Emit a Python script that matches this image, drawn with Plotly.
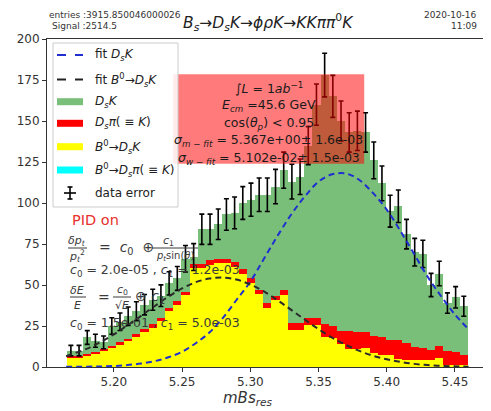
import numpy as np
import plotly.graph_objects as go

# ---------------- data ----------------
bin_lo = 5.1655
bin_w = 0.006
n_bins = 49

total = [10, 10, 18, 16, 15, 25, 27.6, 31, 34, 38, 41, 43.5, 51, 54, 66, 67, 84, 84, 87, 93,
         94, 100, 102, 105, 105, 110, 120, 113, 116, 135, 160, 178, 165, 150, 143, 144, 143, 126, 112, 95,
         98, 81, 70, 69, 50, 57, 39, 42.5, 37]
yellow_plus_red = [7, 7, 8, 9, 11, 13, 15, 17, 20, 23, 26, 30, 36, 40, 46, 63, 63, 65, 66, 66,
                   64, 60, 54, 47, 39, 43, 47, 27, 27, 30, 30, 26, 25, 22, 22, 21.5, 21.5, 19, 18.5, 16.5,
                   16.5, 14.6, 12.4, 11.6, 10.4, 12.8, 10, 9.3, 7.3]
b0_dsk = [6, 6, 7, 8, 10, 12, 14, 16, 18.5, 21.5, 24, 28, 34, 38, 44, 60.5, 60.5, 62.5, 63.5, 63.5,
          61, 57, 51, 44.5, 36, 41, 44, 22.5, 22.5, 25.5, 25.5, 18, 17.5, 14, 11, 11, 11.4, 8.5, 7.3, 7.3,
          5, 4.3, 4.3, 4, 4, 5.5, 1.5, 1.2, 1]
b0_dspi = [0] * n_bins
data_err = [3.2, 3.2, 4.2, 4.0, 3.9, 5.0, 5.3, 5.6, 5.8, 6.2, 6.4, 6.6, 7.1, 7.3, 8.1, 8.2, 9.2, 9.2, 9.3, 9.6,
            9.7, 10.0, 10.1, 10.2, 10.2, 10.5, 11.0, 10.6, 10.8, 11.6, 12.6, 13.3, 12.8, 12.2, 12.0, 12.0, 12.0, 11.2, 10.6, 9.7,
            9.9, 9.0, 8.4, 8.3, 7.1, 7.5, 6.2, 6.5, 6.1]

fit_x = [5.165, 5.18, 5.19, 5.20, 5.21, 5.22, 5.23, 5.24, 5.25, 5.26, 5.27, 5.28, 5.29, 5.30, 5.31,
         5.32, 5.33, 5.34, 5.35, 5.36, 5.37, 5.38, 5.39, 5.40, 5.41, 5.42, 5.43, 5.44, 5.45, 5.46]
fit_dsk = [0.1, 0.2, 0.3, 0.6, 1.2, 2.1, 3.6, 5.9, 9.3, 14.5, 21, 30, 41, 52, 66,
           80, 93, 104, 113, 117.5, 118, 114, 106, 96, 83, 69, 55, 43, 32, 23]
fit_b0 = [6.6, 11.1, 15.1, 19.9, 25.4, 31.2, 37.2, 42.9, 47.9, 51.7, 53.9, 54.5, 53.3, 50.3, 46.1,
          40.7, 34.8, 28.9, 23.1, 17.9, 13.5, 9.8, 6.8, 4.7, 3.1, 1.9, 1.2, 0.7, 0.4, 0.2]

x_ticks = [5.20, 5.25, 5.30, 5.35, 5.40, 5.45]
x_tick_labels = ["5.20", "5.25", "5.30", "5.35", "5.40", "5.45"]
y_ticks = [0, 25, 50, 75, 100, 125, 150, 175, 200]

# derived stack pieces
centers = bin_lo + bin_w * (np.arange(n_bins) + 0.5)
red_part = [yr - y for yr, y in zip(yellow_plus_red, b0_dsk)]
green_part = [t - yr for t, yr in zip(total, yellow_plus_red)]

GREEN = "rgb(121,190,121)"
RED = "rgb(255,0,0)"
YELLOW = "rgb(255,255,0)"
CYAN = "rgb(0,255,255)"

# page body has an 8px margin: shrink the figure so the plot lands where the reference has it
OFF = 8
W, H = 491 - OFF, 411 - OFF
PL, PR, PT, PB = 47, 487, 39, 367   # plot-area edges in reference window pixels


def px(x):
    return (x - PL) / (PR - PL)


def py(y):
    return (PB - y) / (PB - PT)


fig = go.Figure()
for vals, col in [(b0_dsk, YELLOW), (b0_dspi, CYAN), (red_part, RED), (green_part, GREEN)]:
    fig.add_trace(go.Bar(x=centers, y=vals, width=bin_w, marker=dict(color=col, line=dict(width=0)),
                         showlegend=False, hoverinfo="skip"))

fig.add_trace(go.Scatter(x=centers, y=total, mode="markers", marker=dict(size=1, color="black"),
                         error_y=dict(type="data", array=data_err, visible=True, color="black",
                                      thickness=1.6, width=2.5),
                         showlegend=False))
fig.add_trace(go.Scatter(x=fit_x, y=fit_dsk, mode="lines",
                         line=dict(color="#1f2fd0", width=2, dash="6px,4px", shape="spline"),
                         showlegend=False))
fig.add_trace(go.Scatter(x=fit_x, y=fit_b0, mode="lines",
                         line=dict(color="#2a2a2a", width=2, dash="6px,4px", shape="spline"),
                         showlegend=False))

shapes = []
annots = []
# red info box
shapes.append(dict(type="rect", xref="x", yref="y", x0=5.2435, x1=5.3835, y0=124, y1=178.5,
                   fillcolor="rgba(255,0,0,0.52)", line=dict(width=0), layer="above"))
box_lines = [
    ("∫<i>L</i> = 1<i>ab</i><sup>−1</sup>", 88),
    ("<i>E<sub>cm</sub></i> =45.6 GeV", 106),
    ("cos(<i>θ<sub>p</sub></i>) < 0.95", 123),
    ("<i>σ<sub>m − fit</sub></i> = 5.367e+00± 1.6e-03", 140.5),
    ("<i>σ<sub>w − fit</sub></i> = 5.102e-02± 1.5e-03", 158),
]
for txt, yy in box_lines:
    annots.append(dict(text=txt, x=px(268.5), y=py(yy), xref="paper", yref="paper", showarrow=False,
                       xanchor="center", yanchor="middle", font=dict(size=12.5, color="#1a1a1a")))

# manual legend
shapes.append(dict(type="rect", xref="paper", yref="paper", x0=px(53), x1=px(178), y0=py(207), y1=py(43),
                   fillcolor="rgba(255,255,255,0.85)", line=dict(color="#cccccc", width=1), layer="above"))
leg_rows = [55, 79.5, 101.7, 123.3, 146.7, 170, 193]
leg_text = ["fit <i>D<sub>s</sub>K</i>", "fit <i>B</i><sup>0</sup>→<i>D<sub>s</sub>K</i>", "<i>D<sub>s</sub>K</i>",
            "<i>D<sub>s</sub>π</i>( ≡ <i>K</i>)", "<i>B</i><sup>0</sup>→<i>D<sub>s</sub>K</i>",
            "<i>B</i><sup>0</sup>→<i>D<sub>s</sub>π</i>( ≡ <i>K</i>)", "data error"]
for i, (yy, t) in enumerate(zip(leg_rows, leg_text)):
    if i == 0:
        shapes.append(dict(type="line", xref="paper", yref="paper", x0=px(57), x1=px(83), y0=py(yy), y1=py(yy),
                           line=dict(color="#1f2fd0", width=1.8, dash="dash"), layer="above"))
    elif i == 1:
        shapes.append(dict(type="line", xref="paper", yref="paper", x0=px(57), x1=px(83), y0=py(yy), y1=py(yy),
                           line=dict(color="#222222", width=1.8, dash="dash"), layer="above"))
    elif i < 6:
        col = [GREEN, RED, YELLOW, CYAN][i - 2]
        shapes.append(dict(type="rect", xref="paper", yref="paper", x0=px(57), x1=px(83), y0=py(yy + 3.5),
                           y1=py(yy - 3.5), fillcolor=col, line=dict(width=0), layer="above"))
    else:
        shapes.append(dict(type="line", xref="paper", yref="paper", x0=px(70), x1=px(70), y0=py(yy + 6), y1=py(yy - 6),
                           line=dict(color="black", width=1.6), layer="above"))
        shapes.append(dict(type="line", xref="paper", yref="paper", x0=px(64), x1=px(76), y0=py(yy), y1=py(yy),
                           line=dict(color="black", width=1.6), layer="above"))
        for ee in (yy - 6, yy + 6):
            shapes.append(dict(type="line", xref="paper", yref="paper", x0=px(67.5), x1=px(72.5), y0=py(ee), y1=py(ee),
                               line=dict(color="black", width=1.6), layer="above"))
    annots.append(dict(text=t, x=px(93), y=py(yy), xref="paper", yref="paper", showarrow=False,
                       xanchor="left", yanchor="middle", font=dict(size=12, color="#222222")))

# PID text block
TC = "#3a3a3a"


def note(t, x, y, size=11, anchor="center", color=TC):
    annots.append(dict(text=t, x=px(x), y=py(y), xref="paper", yref="paper", showarrow=False,
                       xanchor=anchor, yanchor="middle", font=dict(size=size, color=color)))


def fbar(x0, x1, y):
    shapes.append(dict(type="line", xref="paper", yref="paper", x0=px(x0), x1=px(x1), y0=py(y), y1=py(y),
                       line=dict(color=TC, width=1), layer="above"))


note("PID on", 70, 220, size=14.5, anchor="left", color="#e8302c")
note("<i>δp<sub>t</sub></i>", 77, 241, size=11)
fbar(68, 87, 248)
note("<i>p<sub>t</sub></i><sup>2</sup>", 77, 256, size=11)
note("=  <i>c</i><sub>0</sub>  ⊕", 97, 248, size=14, anchor="left")
note("<i>c</i><sub>1</sub>", 168, 241, size=11)
fbar(152, 198, 248)
note("<i>p<sub>t</sub></i>sin(<i>θ</i>)", 175, 256, size=10)
note("<i>c</i><sub>0</sub> = 2.0e-05 , <i>c</i><sub>1</sub> = 1.2e-03", 68, 270, size=12.5, anchor="left")
note("<i>δE</i>", 77, 290, size=11)
fbar(70, 86, 297)
note("<i>E</i>", 77, 305, size=11)
note("=", 104, 297, size=14)
note("<i>c</i><sub>0</sub>", 122, 290, size=11)
fbar(113, 131, 297)
note("√<i>E</i>", 122, 305, size=11)
note("⊕ <i>c</i><sub>1</sub>", 133, 297, size=14, anchor="left")
note("<i>c</i><sub>0</sub> = 1.5e-01 , <i>c</i><sub>1</sub> = 5.0e-03", 68, 323, size=12.5, anchor="left")

# header texts
note("entries :3915.850046000026", 47, 15, size=9, anchor="left", color="#333333")
note("Signal :2514.5", 50, 26, size=9, anchor="left", color="#333333")
note("2020-10-16", 479, 15, size=9, anchor="right", color="#333333")
note("11:09", 479, 26, size=9, anchor="right", color="#333333")
note("<i>B<sub>s</sub></i>→<i>D<sub>s</sub>K</i>→<i>ϕρK</i>→<i>KKππ</i><sup>0</sup><i>K</i>", 268, 22, size=15.5,
     color="#222222")
note("<i>mBs<sub>res</sub></i>", 247, 398, size=15, color="#333333")

fig.update_layout(
    template="none",
    width=W, height=H,
    margin=dict(l=PL - OFF, r=491 - PR, t=PT - OFF, b=411 - PB, pad=0, autoexpand=False),
    paper_bgcolor="white", plot_bgcolor="white",
    barmode="stack", bargap=0,
    font=dict(family="DejaVu Sans", color="#333333"),
    shapes=shapes, annotations=annots,
    xaxis=dict(range=[5.151, 5.4735], tickvals=x_ticks, ticktext=x_tick_labels, ticks="outside", ticklen=4,
               tickcolor="#333333", showline=True, linecolor="#333333", linewidth=1, mirror=True,
               showgrid=False, zeroline=False, tickfont=dict(size=12), automargin=False),
    yaxis=dict(range=[0, 200], tickvals=y_ticks, ticks="outside", ticklen=4, tickcolor="#333333",
               showline=True, linecolor="#333333", linewidth=1, mirror=True, showgrid=False, zeroline=False,
               tickfont=dict(size=12), automargin=False),
)

fig.write_html("out.html")
